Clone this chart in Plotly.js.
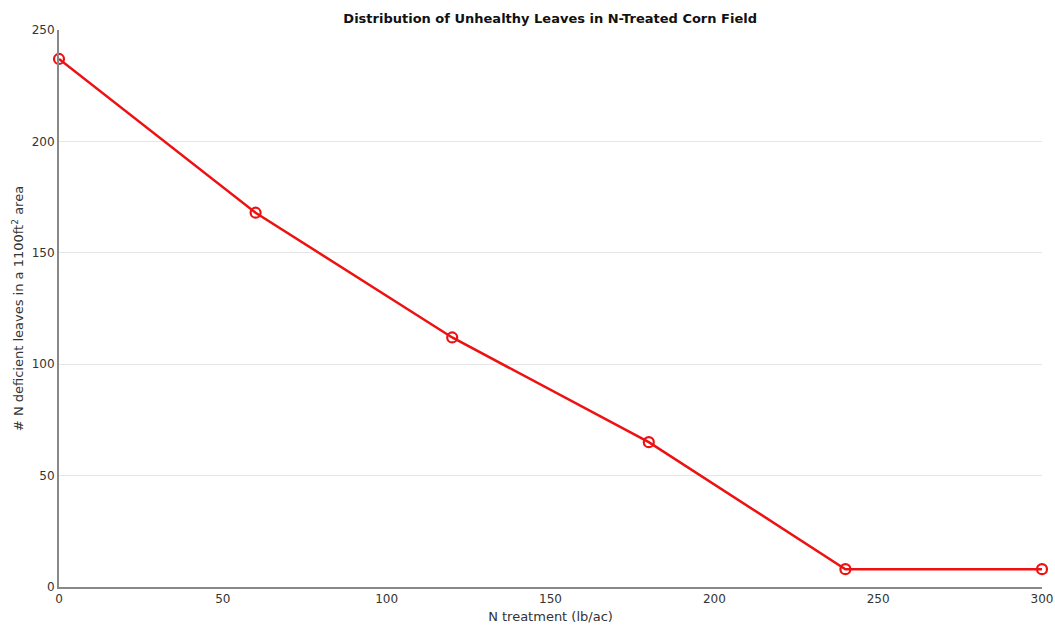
<!DOCTYPE html>
<html>
<head>
<meta charset="utf-8">
<script src="https://cdn.plot.ly/plotly-3.0.1.min.js"></script>
<style>html,body{margin:0;padding:0;background:#fff;}#chart{width:1055px;height:625px;}</style>
</head>
<body>
<div id="chart"></div>
<script>
const nTreatment = [0, 60, 120, 180, 240, 300];
const deficientLeaves = [237, 168, 112, 65, 8, 8];
const xTicks = [0, 50, 100, 150, 200, 250, 300];
const yTicks = [0, 50, 100, 150, 200, 250];

const trace = {
  x: nTreatment,
  y: deficientLeaves,
  type: 'scatter',
  mode: 'lines+markers',
  line: {color: '#ee1111', width: 2.5},
  marker: {symbol: 'circle-open', size: 10, color: '#ee1111', line: {width: 2.2, color: '#ee1111'}},
  cliponaxis: false,
  showlegend: false
};

const layout = {
  width: 1055,
  height: 625,
  margin: {l: 59, r: 13, t: 30, b: 38},
  paper_bgcolor: '#ffffff',
  plot_bgcolor: '#ffffff',
  font: {family: 'DejaVu Sans', size: 12, color: '#333'},
  title: {
    text: '<b>Distribution of Unhealthy Leaves in N-Treated Corn Field</b>',
    font: {family: 'DejaVu Sans', size: 13, color: '#111'},
    x: 0.5215, xanchor: 'center', y: 0.971, yanchor: 'middle'
  },
  xaxis: {
    range: [0, 300],
    tickvals: xTicks,
    ticktext: xTicks.map(String),
    showgrid: false,
    zeroline: false,
    showline: true,
    linecolor: '#888',
    linewidth: 2,
    ticks: '',
    ticklen: 0,
    tickfont: {family: 'DejaVu Sans', size: 12, color: '#333'},
    title: {text: 'N treatment (lb/ac)', font: {family: 'DejaVu Sans', size: 13, color: '#333'}, standoff: 6}
  },
  yaxis: {
    range: [0, 250],
    tickvals: yTicks,
    ticktext: yTicks.map(String),
    showgrid: true,
    gridcolor: '#e6e6e6',
    gridwidth: 1,
    zeroline: false,
    showline: true,
    linecolor: '#888',
    linewidth: 2,
    ticks: '',
    tickfont: {family: 'DejaVu Sans', size: 12, color: '#333'},
    title: {text: '# N deficient leaves in a 1100ft<sup>2</sup> area', font: {family: 'DejaVu Sans', size: 13, color: '#333'}, standoff: 5}
  }
};

Plotly.newPlot('chart', [trace], layout, {displayModeBar: false, responsive: false});
</script>
</body>
</html>
